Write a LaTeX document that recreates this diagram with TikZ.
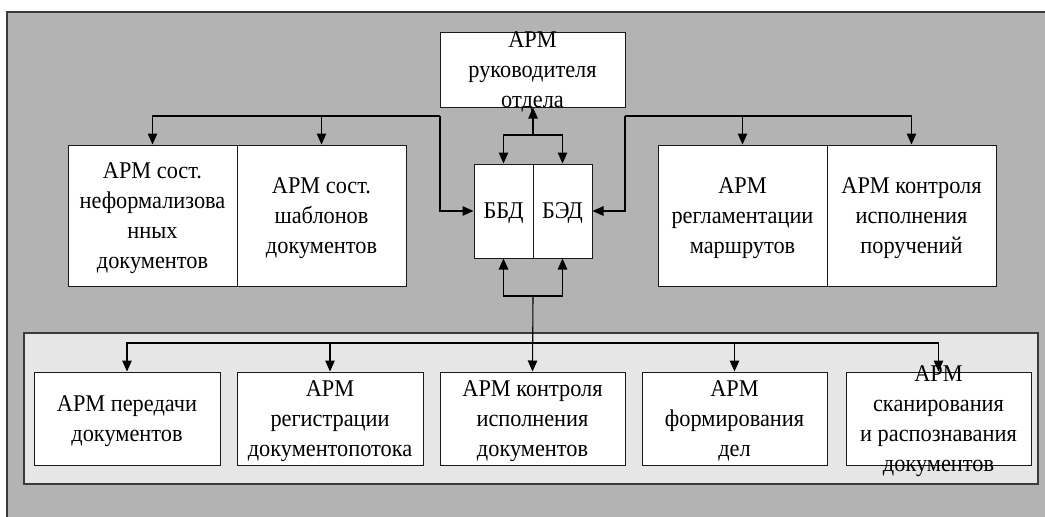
\documentclass[tikz,border=0pt]{standalone}
\usepackage{fontspec}
\setmainfont{Liberation Serif}[FakeStretch=0.93]
\usetikzlibrary{arrows.meta}
\definecolor{bggray}{HTML}{B3B3B3}
\definecolor{panelgray}{HTML}{E6E6E6}
\definecolor{edgegray}{HTML}{3A3A3A}
\begin{document}
\begin{tikzpicture}[x=1pt,y=-1pt,
  box/.style={draw=black!90, line width=1pt, fill=white, inner sep=0pt},
  txt/.style={align=center, inner sep=0pt, yshift=-2.5pt, font=\fontsize{24}{30}\selectfont},
  link/.style={draw=black, line width=1.1pt, -{Triangle[length=11pt,width=9.5pt]}}]
\useasboundingbox (0,0) rectangle (1045,517);

% background sheet, open to the right and bottom
\fill[bggray] (7,12) rectangle (1045,517);
\draw[edgegray, line width=1.2pt] (7,517) -- (7,12) -- (1045,12);

% panel for the lower workstations
\draw[edgegray, line width=1.4pt, fill=panelgray] (24,333) rectangle (1038,484);

% head of department
\node[box, minimum width=185pt, minimum height=75pt,
      label={[txt]center:{АРМ\\руководителя\\отдела}}] (top) at (532.5,69.5) {};

% databases
\node[box, minimum width=59pt, minimum height=94pt,
      label={[txt]center:{ББД}}] (bbd) at (503.5,211) {};
\node[box, minimum width=59pt, minimum height=94pt,
      label={[txt]center:{БЭД}}] (bed) at (562.5,211) {};

% left pair
\node[box, minimum width=169pt, minimum height=141pt,
      label={[txt]center:{АРМ сост.\\неформализова\\нных\\документов}}] (l1) at (152.5,215.5) {};
\node[box, minimum width=169pt, minimum height=141pt,
      label={[txt]center:{АРМ сост.\\шаблонов\\документов}}] (l2) at (321.5,215.5) {};

% right pair
\node[box, minimum width=169pt, minimum height=141pt,
      label={[txt]center:{АРМ\\регламентации\\маршрутов}}] (r1) at (742.5,215.5) {};
\node[box, minimum width=169pt, minimum height=141pt,
      label={[txt]center:{АРМ контроля\\исполнения\\поручений}}] (r2) at (911.5,215.5) {};

% junction points
\coordinate (jt) at (533,135);
\coordinate (jl) at (440,116);
\coordinate (jr) at (625,116);
\coordinate (jb) at (533,296);
\coordinate (hb) at (533,343);

% lower workstations
\node[box, minimum width=186pt, minimum height=93pt,
      label={[txt]center:{АРМ передачи\\документов}}] (b1) at (127,418.5) {};
\node[box, minimum width=186pt, minimum height=93pt,
      label={[txt]center:{АРМ\\регистрации\\документопотока}}] (b2) at (330,418.5) {};
\node[box, minimum width=185pt, minimum height=93pt,
      label={[txt]center:{АРМ контроля\\исполнения\\документов}}] (b3) at (532.5,418.5) {};
\node[box, minimum width=185pt, minimum height=93pt,
      label={[txt]center:{АРМ\\формирования\\дел}}] (b4) at (734.5,418.5) {};
\node[box, minimum width=185pt, minimum height=93pt,
      label={[txt]center:{АРМ\\сканирования\\и распознавания\\документов}}] (b5) at (938.5,418.5) {};

% head of department <-> databases
\draw[link] (jt) -- (top.south -| jt);
\draw[link] (jt) -| (bbd.north);
\draw[link] (jt) -| (bed.north);

% left pair <-> databases
\draw[link] (jl) |- (bbd.west);
\draw[link] (jl) -| (l1.north);
\draw[link] (jl) -| (l2.north);

% right pair <-> databases
\draw[link] (jr) |- (bed.east);
\draw[link] (jr) -| (r1.north);
\draw[link] (jr) -| (r2.north);

% databases <-> lower workstations
\draw[link] (jb) -| (bbd.south);
\draw[link] (jb) -| (bed.south);
\draw[link] (jb) -- (b3.north);
\draw[link] (hb) -| (b1.north);
\draw[link] (hb) -| (b2.north);
\draw[link] (hb) -| (b4.north);
\draw[link] (hb) -| (b5.north);
\end{tikzpicture}
\end{document}
